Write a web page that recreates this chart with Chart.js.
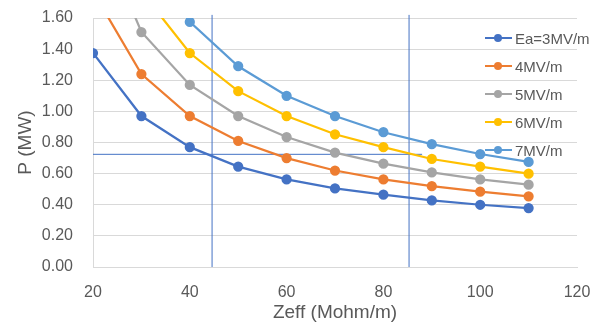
<!DOCTYPE html>
<html>
<head>
<meta charset="utf-8">
<script src="https://cdn.jsdelivr.net/npm/chart.js@4"></script>
<style>
  body { margin: 0; background: #fff; }
  #wrap { position: relative; width: 600px; height: 326px; }
  #legend { position: absolute; left: 485px; top: 24px; font: 15px "Liberation Sans", Arial, sans-serif; color: #595959; }
  .item { height: 28px; display: flex; align-items: center; }
  .mark { position: relative; width: 27px; height: 10px; margin-right: 3px; }
  .mark .ln { position: absolute; left: 0; right: 0; top: 4px; height: 2px; }
  .mark .dt { position: absolute; left: 9px; top: 1px; width: 8px; height: 8px; border-radius: 50%; }
</style>
</head>
<body>
<div id="wrap">
  <canvas id="myChart" width="600" height="326"></canvas>
  <div id="legend"></div>
</div>
<script>
// Zeff values (Mohm/m)
var zeff = [20, 30, 40, 50, 60, 70, 80, 90, 100, 110];
// P (MW) for each accelerating gradient
var p3 = [1.375, 0.97, 0.77, 0.645, 0.563, 0.505, 0.465, 0.428, 0.40, 0.379];
var p4 = [1.77, 1.24, 0.97, 0.81, 0.70, 0.62, 0.563, 0.519, 0.484, 0.454];
var p5 = [2.25, 1.51, 1.17, 0.97, 0.835, 0.735, 0.664, 0.608, 0.563, 0.529];
var p6 = [2.6, 1.77, 1.375, 1.13, 0.97, 0.853, 0.77, 0.694, 0.645, 0.60];
var p7 = [3.0, 2.05, 1.575, 1.29, 1.10, 0.97, 0.866, 0.789, 0.726, 0.675];
var labels = ['Ea=3MV/m', '4MV/m', '5MV/m', '6MV/m', '7MV/m'];
var colors = ['#4472C4', '#ED7D31', '#A5A5A5', '#FFC000', '#5B9BD5'];
// reference lines
var refX = [44.6, 85.3];
var refXSpan = [0, 1.62];
var refY = 0.724;
var refYSpan = [20, 88];

var series = [p3, p4, p5, p6, p7];
var datasets = series.map(function (vals, i) {
    return {
        label: labels[i],
        data: vals.map(function (v, j) { return { x: zeff[j], y: v }; }),
        borderColor: colors[i],
        backgroundColor: colors[i],
        borderWidth: 2.25,
        pointRadius: 4,
        pointHoverRadius: 4,
        order: 10 - i
    };
});
refX.forEach(function (x) {
    datasets.push({
        data: refXSpan.map(function (y) { return { x: x, y: y }; }),
        borderColor: '#4472C4', backgroundColor: '#4472C4', borderWidth: 1, pointRadius: 0, clip: 4, order: 20
    });
});
datasets.push({
    data: refYSpan.map(function (x) { return { x: x, y: refY }; }),
    borderColor: '#4472C4', backgroundColor: '#4472C4', borderWidth: 1, pointRadius: 0, order: 20
});

var tickFont = { family: '"Liberation Sans", Arial, sans-serif', size: 16 };
var titleFont = { family: '"Liberation Sans", Arial, sans-serif', size: 19 };

var ctx = document.getElementById('myChart').getContext('2d');
var myChart = new Chart(ctx, {
    type: 'line',
    data: { datasets: datasets },
    options: {
        responsive: false,
        animation: false,
        layout: { padding: { left: 0, right: 23, top: 18, bottom: 0 } },
        plugins: { legend: { display: false }, tooltip: { enabled: false } },
        scales: {
            x: {
                type: 'linear', min: 20, max: 120,
                afterFit: function (s) { s.height = 59; s.paddingLeft = 0; s.paddingRight = 0; },
                ticks: { stepSize: 20, color: '#595959', font: tickFont, padding: 16 },
                grid: { display: false, drawTicks: false },
                border: { color: '#D9D9D9' },
                title: { display: true, text: 'Zeff (Mohm/m)', color: '#595959', font: titleFont, padding: { top: 0, bottom: 2 } }
            },
            y: {
                min: 0, max: 1.6,
                afterFit: function (s) { s.width = 93; s.paddingTop = 0; s.paddingBottom = 0; },
                ticks: { stepSize: 0.2, color: '#595959', font: tickFont, padding: 20,
                    callback: function (v) { return v.toFixed(2); } },
                grid: { color: '#D9D9D9', drawTicks: false },
                border: { color: '#D9D9D9' },
                title: { display: true, text: 'P (MW)', color: '#595959', font: titleFont, padding: { top: 14, bottom: 0 } }
            }
        }
    }
});

// legend overlay built from the same labels and colours
var legend = document.getElementById('legend');
labels.forEach(function (lab, i) {
    var item = document.createElement('div');
    item.className = 'item';
    item.innerHTML = '<span class="mark"><span class="ln" style="background:' + colors[i] + '"></span>' +
        '<span class="dt" style="background:' + colors[i] + '"></span></span><span>' + lab + '</span>';
    legend.appendChild(item);
});
</script>
</body>
</html>
